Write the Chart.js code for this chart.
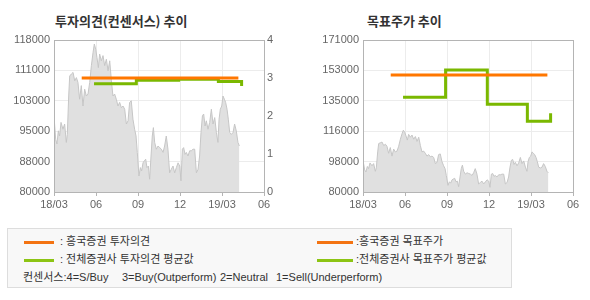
<!DOCTYPE html>
<html>
<head>
<meta charset="utf-8">
<script src="https://cdn.jsdelivr.net/npm/chart.js@4"></script>
<style>
  body { margin: 0; background: #fff; width: 590px; height: 300px; position: relative; overflow: hidden;
         font-family: "Noto Sans CJK KR", "Liberation Sans", sans-serif; }
  .box { position: absolute; top: 0; width: 295px; height: 220px; }
  .title { position: absolute; top: 11px; font-size: 13px; font-weight: bold; color: #333; white-space: nowrap; }
  .legend { position: absolute; left: 7px; top: 228px; width: 505px; height: 60px; border: 1px solid #ddd;
            background: #f8f8f8; box-sizing: border-box; }
  .sw { position: absolute; height: 3px; }
  .lt { position: absolute; font-size: 11px; color: #333; white-space: pre; line-height: 14px;
        font-family: "Liberation Sans", "Noto Sans CJK KR", sans-serif; }
</style>
</head>
<body>
<div class="title" style="left:55px">투자의견(컨센서스) 추이</div>
<div class="title" style="left:367px">목표주가 추이</div>
<div class="box" style="left:0"><canvas id="opinionChart" width="295" height="220"></canvas></div>
<div class="box" style="left:295px"><canvas id="targetChart" width="295" height="220"></canvas></div>

<div class="legend">
  <div class="sw" style="left:16px; top:12px; width:30px; background:#f37312"></div>
  <div class="lt" style="left:52px; top:5px">: 흥국증권 투자의견</div>
  <div class="sw" style="left:16px; top:30px; width:30px; background:#8cc414"></div>
  <div class="lt" style="left:52px; top:23px">: 전체증권사 투자의견 평균값</div>
  <div class="sw" style="left:309px; top:12px; width:36px; background:#f37312"></div>
  <div class="lt" style="left:348px; top:5px">:흥국증권 목표주가</div>
  <div class="sw" style="left:309px; top:30px; width:36px; background:#8cc414"></div>
  <div class="lt" style="left:348px; top:23px">:전체증권사 목표주가 평균값</div>
  <div class="lt" style="left:15px; top:41px">컨센서스:4=S/Buy</div>
  <div class="lt" style="left:114px; top:41px">3=Buy(Outperform)</div>
  <div class="lt" style="left:212px; top:41px">2=Neutral</div>
  <div class="lt" style="left:268px; top:41px">1=Sell(Underperform)</div>
</div>

<script>
// x values are months counted from 2018/03
const monthTicks = ['18/03', '06', '09', '12', '19/03', '06'];
const opinionTicks = ['80000', '88000', '95000', '103000', '111000', '118000'];
const targetTicks = ['80000', '98000', '116000', '135000', '153000', '171000'];

const priceMonths = [0.00, 0.12, 0.21, 0.31, 0.40, 0.50, 0.64, 0.76, 0.88, 0.95, 1.05, 1.12, 1.24, 1.36, 1.48, 1.60,
  1.71, 1.83, 1.95, 2.07, 2.19, 2.31, 2.43, 2.55, 2.67, 2.79, 2.88, 2.98, 3.07, 3.17, 3.26, 3.38, 3.50, 3.62, 3.74,
  3.86, 3.98, 4.10, 4.21, 4.33, 4.45, 4.57, 4.69, 4.81, 4.93, 5.05, 5.17, 5.29, 5.40, 5.52, 5.64, 5.76, 5.86, 5.95,
  6.07, 6.17, 6.26, 6.36, 6.45, 6.55, 6.64, 6.74, 6.83, 6.93, 7.02, 7.10, 7.19, 7.31, 7.43, 7.55, 7.67, 7.79, 7.90,
  8.02, 8.14, 8.26, 8.38, 8.50, 8.62, 8.74, 8.86, 8.98, 9.07, 9.17, 9.26, 9.36, 9.45, 9.57, 9.69, 9.81, 9.93, 10.05,
  10.17, 10.29, 10.40, 10.50, 10.60, 10.69, 10.79, 10.88, 11.00, 11.12, 11.24, 11.36, 11.48, 11.60, 11.71, 11.79,
  11.88, 11.98, 12.07, 12.17, 12.26, 12.36, 12.45, 12.55, 12.67, 12.79, 12.90, 13.02, 13.14, 13.24];
const prices = [99000, 93200, 92000, 95300, 94000, 97400, 95700, 97000, 92400, 94400, 104000, 109000, 109500, 109900,
  107800, 108600, 107400, 103200, 106600, 101500, 105700, 104000, 104500, 107400, 111600, 114900, 117000, 115700,
  113600, 111100, 114500, 112800, 114100, 111600, 113200, 110300, 112800, 107800, 104000, 104500, 103200, 101500,
  102400, 101100, 101500, 100700, 97000, 97800, 102400, 102800, 98200, 95700, 94000, 89900, 84000, 86100, 85300,
  87300, 87800, 88200, 86100, 86500, 83200, 89000, 94000, 96100, 92400, 90700, 91500, 91100, 90700, 89900, 91500,
  94000, 90700, 84800, 85700, 86500, 84800, 86100, 87300, 86500, 82800, 90700, 91100, 89400, 89900, 89000, 90300,
  90300, 90700, 90700, 84800, 85700, 89000, 94900, 99000, 99500, 96500, 97800, 95700, 97400, 100700, 97000, 98600,
  94900, 92400, 98200, 100700, 101500, 104000, 103200, 102400, 100700, 98200, 94900, 94400, 94900, 97000, 95300,
  92400, 91500];

// 흥국증권 투자의견 / 전체증권사 평균 (0-4 scale)
const opinionMonths = [1.98, 13.17];
const opinionValues = [3, 3];
const avgOpinionMonths = [2.86, 5.88, 8.9, 11.74, 13.4];
const avgOpinionValues = [2.85, 2.94, 2.97, 2.91, 2.79];

// 목표주가
const targetMonths = [1.98, 13.17];
const targetValues = [150000, 150000];
const avgTargetMonths = [2.86, 5.9, 8.88, 11.74, 13.4];
const avgTargetValues = [136800, 153000, 132600, 122400, 127200];

const ORANGE = '#ff7700';
const GREEN = '#7ab800';
const AXIS = '#b4b4b4';
const GRID = '#ececec';

Chart.defaults.font.family = '"Liberation Sans", Arial, sans-serif';
Chart.defaults.font.size = 11;
Chart.defaults.color = '#666';

const toPoints = (xs, ys) => xs.map((x, i) => ({ x, y: ys[i] }));

const frame = {
  id: 'frame',
  afterDraw(chart) {
    const a = chart.chartArea;
    const ctx = chart.ctx;
    ctx.save();
    ctx.strokeStyle = AXIS;
    ctx.lineWidth = 1;
    ctx.strokeRect(Math.round(a.left) + 0.5, Math.round(a.top) + 0.5,
      Math.round(a.right - a.left), Math.round(a.bottom - a.top));
    ctx.restore();
  }
};

const priceDataset = (axis) => ({
  data: toPoints(priceMonths, prices),
  yAxisID: axis,
  borderColor: '#c6c6c6',
  borderWidth: 1,
  backgroundColor: '#e0e0e0',
  fill: 'start',
  pointRadius: 0,
  order: 2
});

const stepLine = (xs, ys, color, axis, stepped) => ({
  data: toPoints(xs, ys),
  yAxisID: axis,
  borderColor: color,
  borderWidth: 3,
  pointRadius: 0,
  fill: false,
  stepped: stepped,
  order: 0
});

const xScale = {
  type: 'linear',
  min: 0,
  max: 15,
  z: 1,
  ticks: { stepSize: 3, padding: 2, maxRotation: 0, callback: (v, i) => monthTicks[i] },
  grid: { color: GRID, tickColor: AXIS, tickLength: 4 },
  border: { color: AXIS },
  afterFit: s => { s.height = 28; }
};

const baseOpts = {
  responsive: false,
  animation: false,
  layout: { padding: { top: 40, left: 0, right: 0, bottom: 0 } },
  plugins: { legend: { display: false }, tooltip: { enabled: false } },
  elements: { line: { tension: 0 } }
};

const opinionCtx = document.getElementById('opinionChart').getContext('2d');
let opinionChart = new Chart(opinionCtx, {
  type: 'line',
  data: {
    datasets: [
      priceDataset('y'),
      stepLine(opinionMonths, opinionValues, ORANGE, 'y1', false),
      stepLine(avgOpinionMonths, avgOpinionValues, GREEN, 'y1', 'before')
    ]
  },
  options: {
    ...baseOpts,
    scales: {
      x: xScale,
      y: {
        min: 80000, max: 118000, z: 1,
        ticks: { stepSize: 7600, padding: 4, callback: (v, i) => opinionTicks[i] },
        grid: { color: GRID, drawTicks: false },
        border: { color: AXIS },
        afterFit: s => { s.width = 54; }
      },
      y1: {
        position: 'right',
        min: 0, max: 4,
        ticks: { stepSize: 1, padding: 3 },
        grid: { display: false, drawTicks: false },
        border: { color: AXIS },
        afterFit: s => { s.width = 31; }
      }
    }
  },
  plugins: [frame]
});

const targetCtx = document.getElementById('targetChart').getContext('2d');
let targetChart = new Chart(targetCtx, {
  type: 'line',
  data: {
    datasets: [
      priceDataset('y'),
      stepLine(targetMonths, targetValues, ORANGE, 'y', false),
      stepLine(avgTargetMonths, avgTargetValues, GREEN, 'y', 'before')
    ]
  },
  options: {
    ...baseOpts,
    layout: { padding: { top: 40, left: 0, right: 17, bottom: 0 } },
    scales: {
      x: xScale,
      y: {
        min: 80000, max: 171000, z: 1,
        ticks: { stepSize: 18200, padding: 4, callback: (v, i) => targetTicks[i] },
        grid: { color: GRID, drawTicks: false },
        border: { color: AXIS },
        afterFit: s => { s.width = 68; }
      }
    }
  },
  plugins: [frame]
});
</script>
</body>
</html>
